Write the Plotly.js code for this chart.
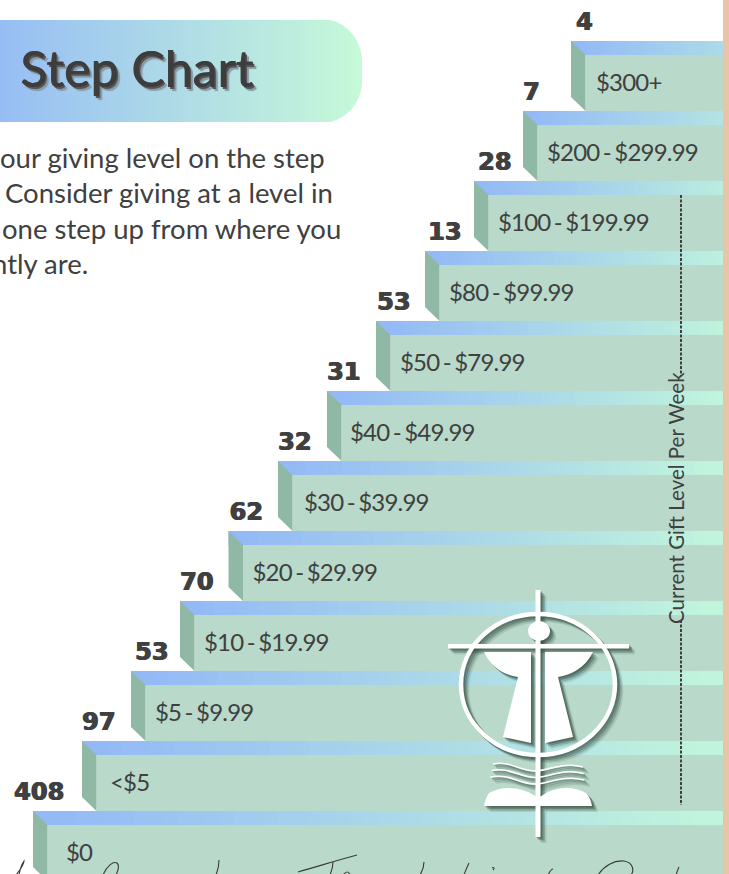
<!DOCTYPE html>
<html>
<head>
<meta charset="utf-8">
<script src="https://cdn.plot.ly/plotly-3.0.1.min.js"></script>
<style>html,body{margin:0;padding:0;background:#fff;overflow:hidden}#c{width:729px;height:874px}
.textpoint text[style*="Lato"]{letter-spacing:-0.8px;word-spacing:-2px}
</style>
</head>
<body>
<div id="c"></div>
<script>
// ---- data, bottom step first ----
const levels = ["$0","<$5","$5 - $9.99","$10 - $19.99","$20 - $29.99","$30 - $39.99","$40 - $49.99","$50 - $79.99","$80 - $99.99","$100 - $199.99","$200 - $299.99","$300+"];
const donors = [408,97,53,70,62,32,31,53,13,28,7,4];
const title = "Step Chart";
const intro = ["our giving level on the step","Consider giving at a level in","one step up from where you","ntly are."];
const axisLabel = "Current Gift Level Per Week";

// ---- geometry of the staircase ----
const W=729,H=874, RIGHT=723, DEPTH=14.5, RISE=70;
const lefts=[33,82,131,180,228.5,278,327,376,425,474,523,571];
const top_=i=>811-RISE*i;
const idx=levels.map((_,i)=>i);
const countNudge=[-19,0,4,0,1,0,0,1,3,4,0,5];
const labelNudge=[33,28,24,24,24,26,23,24,24,24,24,25];
const bandReach=[1,1,1,1,1,1,.98,.96,.92,.85,.7,.55];
const INK="#404040", FACE="#b9d9ca", SIDE="#8fb8a5", PEACH="#e8c5a9";
const gradient=[[0,"#93b8f7"],[1,"#c1f6db"]];

const traces=[];
// front faces
traces.push({type:"bar",orientation:"h",y:idx.map(i=>top_(i)+14+28),base:idx.map(i=>lefts[i]+DEPTH),
  x:idx.map(i=>RIGHT-lefts[i]-DEPTH),width:56,marker:{color:FACE,line:{width:0}},hoverinfo:"skip",showlegend:false});
// gradient top treads
idx.forEach(i=>{
  const n=48,xs=[],z=[];
  for(let k=0;k<=n;k++)xs.push(lefts[i]+(RIGHT-lefts[i])*k/n);
  for(let k=0;k<n;k++)z.push((k+.5)/n*bandReach[i]);
  traces.push({type:"heatmap",x:xs,y:[top_(i),top_(i)+14],z:[z],zmin:0,zmax:1,colorscale:gradient,showscale:false,hoverinfo:"skip"});
});
// title pill
{
  const n=60,xs=[],z=[];
  for(let k=0;k<=n;k++)xs.push(362*k/n);
  for(let k=0;k<n;k++)z.push(.08+.92*(k+.5)/n);
  traces.push({type:"heatmap",x:xs,y:[20,122],z:[z],zmin:0,zmax:1,colorscale:[[0,"#93b8f7"],[1,"#c6f9d8"]],showscale:false,hoverinfo:"skip"});
}
// labels and counts
traces.push({type:"scatter",mode:"text",x:idx.map(i=>lefts[i]+labelNudge[i]),y:idx.map(i=>top_(i)+44),text:levels,
  textposition:"middle right",textfont:{family:"Lato",size:24,color:INK},hoverinfo:"skip",showlegend:false});
traces.push({type:"scatter",mode:"text",x:idx.map(i=>lefts[i]+countNudge[i]),y:idx.map(i=>top_(i)-17),text:donors.map(String),
  textposition:"middle right",textfont:{family:"DejaVu Sans",weight:700,size:24,color:INK,shadow:"0.8px 0 0 "+INK+", -0.4px 0 0 "+INK},hoverinfo:"skip",showlegend:false});

const shapes=[];
const P=(path,o)=>shapes.push(Object.assign({type:"path",xref:"x",yref:"y",path,layer:"above"},o));
// side faces
idx.forEach(i=>{const l=lefts[i],t=top_(i);
  P(`M${l},${t} L${l+DEPTH},${t+14} L${l+DEPTH},${t+70} L${l},${t+56} Z`,{fillcolor:SIDE,line:{width:0}});});
// peach edge
shapes.push({type:"rect",xref:"x",yref:"y",x0:RIGHT,x1:W,y0:0,y1:H,fillcolor:PEACH,line:{width:0},layer:"above"});
// pill mask
P("M321,19 C344,19 362,38 362,61 L362,81 C362,104 344,123 321,123 L364,123 L364,19 Z",{fillcolor:"#fff",line:{width:0}});
// dashed axis line
[[195,376],[620,805]].forEach(([a,b])=>shapes.push({type:"line",xref:"x",yref:"y",x0:681,x1:681,y0:a,y1:b,layer:"above",line:{color:INK,width:2,dash:"3px,1.5px"}}));

// logo
function logo(dx,dy,col,op){
  const base={layer:"above",opacity:op};
  const R=(x0,y0,x1,y1)=>shapes.push(Object.assign({type:"rect",xref:"x",yref:"y",x0:x0+dx,x1:x1+dx,y0:y0+dy,y1:y1+dy,fillcolor:col,line:{width:0}},base));
  const path=(pts,o)=>shapes.push(Object.assign({type:"path",xref:"x",yref:"y",path:pts.replace(/(-?[\d.]+),(-?[\d.]+)/g,(m,a,b)=>(+a+dx)+","+(+b+dy))},base,o));
  shapes.push(Object.assign({type:"circle",xref:"x",yref:"y",x0:461+dx,x1:615+dx,y0:614+dy,y1:755+dy,fillcolor:"rgba(0,0,0,0)",line:{color:col,width:4.5}},base));
  R(535.5,590,540.5,837);
  R(448,644,629,648.5);
  shapes.push(Object.assign({type:"circle",xref:"x",yref:"y",x0:528+dx,x1:550+dx,y0:621+dy,y1:641+dy,fillcolor:col,line:{width:0}},base));
  path("M484,652 L531,652 L531,743 L503,737 L518,677 C505,675 491,668 484,652 Z",{fillcolor:col,line:{width:0}});
  path("M593,652 L545,652 L545,743 L573,737 L558,677 C571,675 585,668 593,652 Z",{fillcolor:col,line:{width:0}});
  [0,6.5,13].forEach(o=>{const y=o;
    path(`M${493-o*.2},${764+y} C510,${760+y} 520,${772+y} 537,${771+y} C552,${769+y} 565,${762+y} ${583+o*.1},${767+y}`,{fillcolor:"rgba(0,0,0,0)",line:{color:col,width:1.6}});});
  path("M484,806 C485,800 487,796 489,793 C503,785 522,787 537,797 L537,806 Z",{fillcolor:col,line:{width:0}});
  path("M592,806 C591,800 589,796 586,793 C572,785 553,787 540,797 L540,806 Z",{fillcolor:col,line:{width:0}});
}
logo(6,6,"rgb(50,75,65)",.14);
logo(4.5,4.5,"rgb(50,75,65)",.25);
logo(3,3,"rgb(50,75,65)",.38);
logo(1.5,1.5,"rgb(50,75,65)",.45);
logo(0,0,"#ffffff",1);

// clipped handwriting along the bottom edge (only the tips of the letters are visible)
["M16,875 C20,870 24,864 24,861 C22,864 20,869 19,875",
 "M103,875 C107,866 113,861 117,863 C120,866 118,871 116,875",
 "M216,875 C218,870 219,864 219,860",
 "M298,872 C316,867 338,860 357,855",
 "M330,875 C332,870 333,866 333,862",
 "M343,875 C346,871 349,871 350,875",
 "M420,875 C423,870 424,866 424,862",
 "M464,875 C466,869 468,865 469,863",
 "M492,868 C494,867 495,868 493,870",
 "M548,875 C550,871 552,869 553,869",
 "M598,875 C604,866 614,860 624,861 C634,863 634,871 631,875",
 "M676,875 C677,872 678,869 679,867"
].forEach(d=>P(d,{fillcolor:"rgba(0,0,0,0)",line:{color:"#3a3a3a",width:1.1}}));

const annos=[];
annos.push({x:18,y:68,xanchor:"left",yanchor:"middle",showarrow:false,text:title,xref:"x",yref:"y",
  font:{family:"Lato",weight:400,size:50,color:"#3d3d3d",shadow:"0.7px 0 0 #3d3d3d, 2px 2px 0 #555, 4px 4px 1px #8a9aa5"}});
const introRight=[327,335,343,90], introY=[157,192,228,263];
intro.forEach((t,i)=>annos.push({x:introRight[i],y:introY[i],xanchor:"right",yanchor:"middle",showarrow:false,text:t,xref:"x",yref:"y",
  font:{family:"Lato",size:27.5,color:INK}}));
annos.push({x:676,y:498,xanchor:"center",yanchor:"middle",showarrow:false,text:axisLabel,textangle:-90,xref:"x",yref:"y",
  font:{family:"Lato",size:20.5,color:INK}});

const layout={width:W,height:H,margin:{l:0,r:0,t:0,b:0},paper_bgcolor:"#fff",plot_bgcolor:"#fff",showlegend:false,barmode:"overlay",
  xaxis:{range:[0,W],visible:false,fixedrange:true},
  yaxis:{range:[H,0],visible:false,fixedrange:true},
  shapes,annotations:annos};
Plotly.newPlot("c",traces,layout,{displayModeBar:false,staticPlot:true});
</script>
</body>
</html>
